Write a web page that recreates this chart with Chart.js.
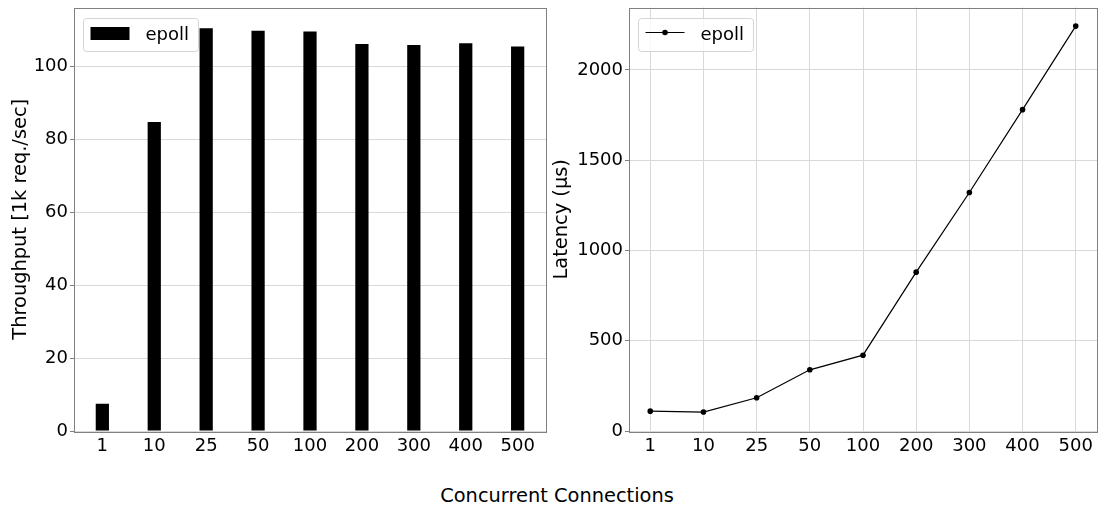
<!DOCTYPE html>
<html>
<head>
<meta charset="utf-8">
<script src="https://cdn.jsdelivr.net/npm/chart.js@4.4.1/dist/chart.umd.min.js"></script>
<style>
  html, body { margin: 0; padding: 0; background: #fff; }
  body { width: 1101px; height: 508px; position: relative; overflow: hidden; font-family: 'DejaVu Sans', sans-serif; }
  #thr { position: absolute; left: 0; top: 0; }
  #lat { position: absolute; left: 548px; top: 0; }
  #xtitle { position: absolute; left: 0; top: 484px; width: 1114px; line-height: 24px;
            text-align: center; font-size: 19.4px; color: #000; }
</style>
</head>
<body>
<canvas id="thr" width="548" height="470"></canvas>
<canvas id="lat" width="553" height="470"></canvas>
<div id="xtitle">Concurrent Connections</div>
<script>
// Daten
const connections = ['1', '10', '25', '50', '100', '200', '300', '400', '500'];
const throughput = [7.5, 84.8, 110.5, 109.8, 109.6, 106.2, 105.9, 106.4, 105.5];
const latency = [110, 105, 184, 339, 420, 880, 1321, 1780, 2243];
const throughputTicks = [0, 20, 40, 60, 80, 100];
const latencyTicks = [0, 500, 1000, 1500, 2000];
const seriesName = 'epoll';

const GRID = '#d9d9d9';
const SPINE = '#808080';
const tickFont = { family: 'DejaVu Sans', size: 18 };
const labelFont = { family: 'DejaVu Sans', size: 19.4 };

Chart.defaults.font.family = 'DejaVu Sans';
Chart.defaults.color = '#000';

/* Rahmen um die Plotfläche wie bei matplotlib */
const framePlugin = {
  id: 'frame',
  afterDraw(chart) {
    const { ctx, chartArea: a } = chart;
    ctx.save();
    ctx.strokeStyle = SPINE;
    ctx.lineWidth = 1;
    ctx.strokeRect(Math.round(a.left) + 0.5, Math.round(a.top) + 0.5,
                   Math.round(a.right - a.left), Math.round(a.bottom - a.top));
    ctx.restore();
  }
};

/* Legende im Plot oben links, mit halbtransparentem Kasten */
const boxLegend = {
  id: 'boxLegend',
  afterDraw(chart, args, opts) {
    const { ctx, chartArea: a } = chart;
    const label = chart.data.datasets[0].label;
    const x = Math.round(a.left + 10) - 0.5, y = Math.round(a.top + 10) + 0.5;
    const w = 115, h = 33;
    ctx.save();
    ctx.beginPath();
    ctx.roundRect(x, y, w, h, 3);
    ctx.fillStyle = 'rgba(255,255,255,0.8)';
    ctx.fill();
    ctx.strokeStyle = '#d4d4d4';
    ctx.lineWidth = 1;
    ctx.stroke();
    const sx = x + 7, sw = 39;
    ctx.fillStyle = '#000';
    if (opts.symbol === 'bar') {
      ctx.fillRect(sx, y + 8.5, sw, 13);
    } else {
      ctx.strokeStyle = '#000';
      ctx.lineWidth = 1.2;
      ctx.beginPath();
      ctx.moveTo(sx, y + 14);
      ctx.lineTo(sx + sw, y + 14);
      ctx.stroke();
      ctx.beginPath();
      ctx.arc(sx + sw / 2, y + 14, 2.8, 0, Math.PI * 2);
      ctx.fill();
    }
    ctx.font = '18px "DejaVu Sans"';
    ctx.textBaseline = 'alphabetic';
    ctx.textAlign = 'left';
    ctx.fillText(label, x + 62, y + 21.5);
    ctx.restore();
  }
};

/* feste Ticks statt automatischer */
const setTicks = values => scale => { scale.ticks = values.map(v => ({ value: v })); };
const indexTicks = connections.map((c, i) => i);

function xAxis(min, max, showGrid) {
  return {
    type: 'linear', min, max, offset: false,
    afterBuildTicks: setTicks(indexTicks),
    ticks: { autoSkip: false, maxRotation: 0, color: '#000', font: tickFont, padding: 5,
             callback: v => connections[v] },
    grid: { display: showGrid, color: GRID, drawTicks: false, offset: false },
    border: { display: false },
    afterFit: s => { s.height = 39; s.paddingLeft = 0; s.paddingRight = 0; }
  };
}

function yAxis(max, ticks, title, titlePad, width) {
  return {
    min: 0, max,
    afterBuildTicks: setTicks(ticks),
    ticks: { color: '#000', font: tickFont, padding: 2, callback: v => String(v) },
    grid: { color: GRID, tickColor: SPINE, tickLength: 4 },
    border: { display: false },
    title: { display: true, text: title, color: '#000', font: labelFont,
             padding: { top: titlePad, bottom: 0 } },
    afterFit: s => { s.width = width; s.paddingTop = 0; s.paddingBottom = 0; }
  };
}

new Chart(document.getElementById('thr'), {
  type: 'bar',
  data: {
    datasets: [{
      label: seriesName,
      data: throughput.map((v, i) => ({ x: i, y: v })),
      backgroundColor: '#000',
      borderWidth: 0,
      barPercentage: 0.255,
      categoryPercentage: 1
    }]
  },
  options: {
    responsive: false,
    animation: false,
    layout: { padding: { left: 0, top: 7.5, right: 2, bottom: 0 } },
    plugins: { legend: { display: false }, tooltip: { enabled: false }, boxLegend: { symbol: 'bar' } },
    scales: {
      x: xAxis(-0.546, 8.546, false),
      y: yAxis(116.2, throughputTicks, 'Throughput [1k req./sec]', 9.4, 74)
    }
  },
  plugins: [framePlugin, boxLegend]
});

new Chart(document.getElementById('lat'), {
  type: 'line',
  data: {
    datasets: [{
      label: seriesName,
      data: latency.map((v, i) => ({ x: i, y: v })),
      borderColor: '#000',
      borderWidth: 1.2,
      pointRadius: 2.8,
      pointBackgroundColor: '#000',
      pointBorderWidth: 0,
      tension: 0
    }]
  },
  options: {
    responsive: false,
    animation: false,
    layout: { padding: { left: 0, top: 7.5, right: 0, bottom: 0 } },
    plugins: { legend: { display: false }, tooltip: { enabled: false }, boxLegend: { symbol: 'line' } },
    scales: {
      x: xAxis(-0.4, 8.4, true),
      y: yAxis(2346, latencyTicks, 'Latency (μs)', 2.1, 81)
    }
  },
  plugins: [framePlugin, boxLegend]
});
</script>
</body>
</html>
